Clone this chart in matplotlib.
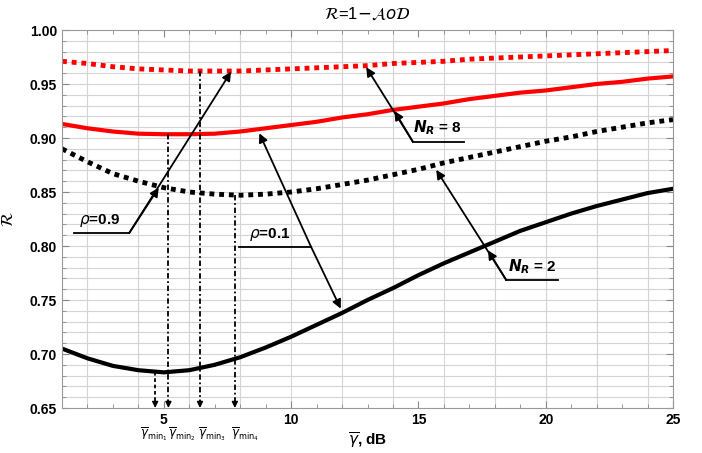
import matplotlib.pyplot as plt
import numpy as np

plt.rcParams['font.family'] = ['Liberation Sans', 'DejaVu Sans']
plt.rcParams['mathtext.fontset'] = 'dejavusans'

# snr axis, dB
gamma = np.arange(1, 26)

# R curves
r_nr2_rho01 = [0.705, 0.696, 0.689, 0.685, 0.683, 0.685, 0.690, 0.697, 0.706, 0.716,
               0.727, 0.738, 0.750, 0.761, 0.773, 0.784, 0.794, 0.804, 0.814, 0.822,
               0.830, 0.837, 0.843, 0.849, 0.853]
r_nr2_rho09 = [0.890, 0.878, 0.867, 0.860, 0.854, 0.850, 0.848, 0.847, 0.848, 0.850,
               0.853, 0.857, 0.861, 0.866, 0.871, 0.877, 0.882, 0.887, 0.892, 0.897,
               0.901, 0.906, 0.910, 0.914, 0.917]
r_nr8_rho01 = [0.913, 0.909, 0.906, 0.904, 0.9035, 0.9035, 0.904, 0.906, 0.909, 0.912,
               0.915, 0.919, 0.922, 0.926, 0.929, 0.932, 0.936, 0.939, 0.942, 0.944,
               0.947, 0.950, 0.952, 0.955, 0.957]
r_nr8_rho09 = [0.971, 0.969, 0.966, 0.964, 0.963, 0.962, 0.962, 0.962, 0.963, 0.964,
               0.965, 0.966, 0.967, 0.969, 0.970, 0.971, 0.973, 0.974, 0.975, 0.976,
               0.977, 0.978, 0.979, 0.980, 0.981]

# minimum points (x position, R value at min)
gmin_x = [4.66, 5.18, 6.42, 7.79]
gmin_r = [0.683, 0.9035, 0.962, 0.847]
gmin_labels = [r'$\overline{\gamma}_{\mathrm{min}_1}$', r'$\overline{\gamma}_{\mathrm{min}_2}$',
               r'$\overline{\gamma}_{\mathrm{min}_3}$', r'$\overline{\gamma}_{\mathrm{min}_4}$']

fig = plt.figure(figsize=(7.02, 4.53), dpi=100)
ax = fig.add_axes([62/702, 45/453, 611/702, 378/453])

ax.set_xlim(1, 25)
ax.set_ylim(0.65, 1.0)

# grid
for xv in np.arange(2, 25, 2):
    ax.axvline(xv, color='#d4d4d4', lw=0.8, zorder=0)
for yv in np.arange(0.66, 1.0, 0.01):
    ax.axhline(yv, color='#d4d4d4', lw=0.8, zorder=0)

ax.plot(gamma, r_nr2_rho01, color='black', lw=3)
ax.plot(gamma, r_nr2_rho09, color='black', lw=3.5, linestyle=(0, (1, 1)))
ax.plot(gamma, r_nr8_rho01, color='red', lw=3)
ax.plot(gamma, r_nr8_rho09, color='red', lw=3.5, linestyle=(0, (1, 1)))

# vertical marker lines down to the axis
styles = [(0, (2, 1.5)), (0, (3, 1.5, 1, 1.5)), (0, (3, 1.5, 1, 1.5)), (0, (3, 1.5, 1, 1.5))]
for xv, rv, st in zip(gmin_x, gmin_r, styles):
    ax.plot([xv, xv], [rv, 0.655], color='black', lw=1.3, linestyle=st)
    ax.annotate('', xy=(xv, 0.65), xytext=(xv, 0.657),
                arrowprops=dict(arrowstyle='-|>', color='black', lw=1, mutation_scale=9,
                                shrinkA=0, shrinkB=0))

for xv, lab in zip([4.62, 5.72, 6.90, 8.20], gmin_labels):
    ax.text(xv, 0.6255, lab, ha='center', va='center', fontsize=8.5, clip_on=False)


def arrow(start, tip):
    ax.annotate('', xy=tip, xytext=start,
                arrowprops=dict(arrowstyle='-|>', color='black', lw=1.3, mutation_scale=13,
                                shrinkA=0, shrinkB=0))


# rho = 0.9
ax.plot([1.47, 3.64], [0.812, 0.812], color='black', lw=1.3)
ax.text(2.46, 0.8155, r'$\rho$=0.9', ha='center', va='bottom', fontsize=11, fontweight='bold')
arrow((3.64, 0.812), (4.8, 0.854))
arrow((3.64, 0.812), (7.64, 0.9614))

# rho = 0.1
ax.plot([7.96, 10.78], [0.7994, 0.7994], color='black', lw=1.3)
ax.text(9.14, 0.803, r'$\rho$=0.1', ha='center', va='bottom', fontsize=11, fontweight='bold')
arrow((10.78, 0.7994), (8.75, 0.9044))
arrow((10.78, 0.7994), (11.95, 0.742))

# N_R = 8
ax.plot([14.78, 16.81], [0.8966, 0.8966], color='black', lw=1.3)
ax.text(15.75, 0.9005, r'$\mathbfit{N}_{\mathbfit{R}}$ = 8', ha='center', va='bottom',
        fontsize=11, fontweight='bold')
arrow((14.78, 0.8966), (14.06, 0.925))
arrow((14.78, 0.8966), (12.95, 0.9655))

# N_R = 2
ax.plot([18.45, 20.48], [0.7685, 0.7685], color='black', lw=1.3)
ax.text(19.49, 0.7725, r'$\mathbfit{N}_{\mathbfit{R}}$ = 2', ha='center', va='bottom',
        fontsize=11, fontweight='bold')
arrow((18.45, 0.7685), (17.73, 0.796))
arrow((18.45, 0.7685), (15.70, 0.8705))

ax.set_xticks([5, 10, 15, 20, 25])
ax.set_xticks(np.arange(1, 26), minor=True)
ax.set_yticks(np.arange(0.65, 1.001, 0.05))
ax.set_yticks(np.arange(0.65, 1.0, 0.01), minor=True)
ax.set_yticklabels(['%.2f' % v for v in np.arange(0.65, 1.001, 0.05)])
ax.tick_params(which='both', direction='in', top=True, right=True, color='#888888')
ax.tick_params(which='major', length=5, labelsize=10)
ax.tick_params(which='minor', length=3)
for lab in ax.get_xticklabels() + ax.get_yticklabels():
    lab.set_fontweight('bold')
for sp in ax.spines.values():
    sp.set_color('#999999')

ax.set_xlabel(r'$\overline{\gamma}$, dB', fontsize=11, fontweight='bold', labelpad=3)
ax.set_ylabel(r'$\mathcal{R}$', fontsize=12, labelpad=10)
ax.set_title(r'$\mathcal{R}$=1$-$$\mathcal{A}\mathit{o}\mathcal{D}$', fontsize=12, pad=8)

fig.savefig('out.png', dpi=100)
